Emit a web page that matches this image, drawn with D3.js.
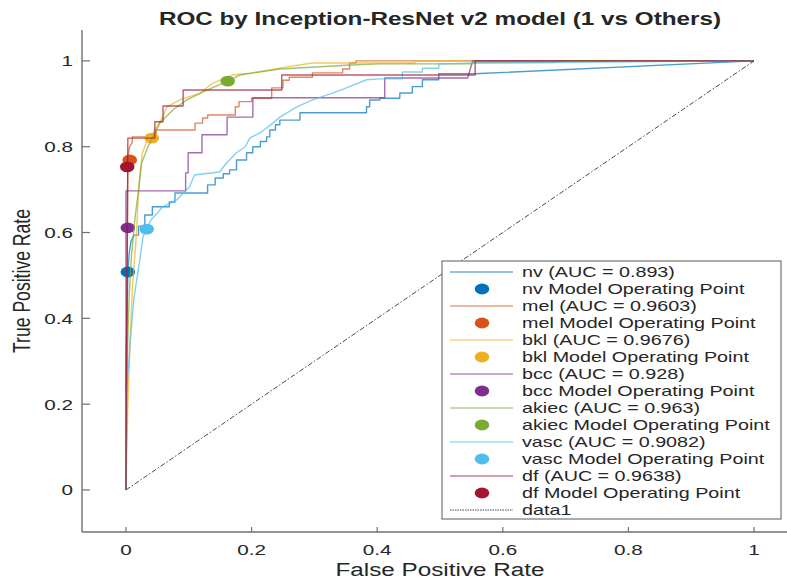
<!DOCTYPE html>
<html>
<head>
<meta charset="utf-8">
<script src="https://cdn.jsdelivr.net/npm/d3@7"></script>
<style>
  html, body { margin: 0; padding: 0; background: #fff; }
  svg { display: block; }
  text { font-family: "Liberation Sans", Arial, Helvetica, sans-serif; fill: #262626; }
</style>
</head>
<body>
<svg id="chart" width="787" height="580"></svg>
<script>
// ---------------- DATA ----------------
const classes = ["nv", "mel", "bkl", "bcc", "akiec", "vasc", "df"];
const aucValues = ["0.893", "0.9603", "0.9676", "0.928", "0.963", "0.9082", "0.9638"];
const xTicks = [0, 0.2, 0.4, 0.6, 0.8, 1];
const yTicks = [0, 0.2, 0.4, 0.6, 0.8, 1];

// ROC curve points [FPR, TPR]
const nvROC = [[0,0],[0,0.3],[0.003,0.5],[0.005,0.55],[0.008,0.58],[0.013,0.594],[0.02,0.594],[0.02,0.615],[0.03,0.615],[0.03,0.641],[0.042,0.641],[0.042,0.66],[0.069,0.66],[0.069,0.671],[0.078,0.671],[0.078,0.692],[0.13,0.692],[0.13,0.711],[0.142,0.711],[0.142,0.727],[0.155,0.727],[0.155,0.737],[0.165,0.737],[0.165,0.746],[0.176,0.746],[0.176,0.769],[0.192,0.769],[0.192,0.786],[0.202,0.786],[0.202,0.8],[0.214,0.8],[0.214,0.812],[0.224,0.812],[0.224,0.823],[0.229,0.823],[0.229,0.839],[0.238,0.839],[0.238,0.851],[0.245,0.851],[0.245,0.862],[0.277,0.862],[0.277,0.879],[0.383,0.879],[0.383,0.893],[0.388,0.893],[0.388,0.909],[0.404,0.909],[0.404,0.913],[0.436,0.913],[0.436,0.925],[0.456,0.925],[0.456,0.94],[0.472,0.94],[0.472,0.956],[0.498,0.956],[0.498,0.97],[0.556,0.97],[1,1]];
const melROC = [[0,0],[0.003,0.78],[0.006,0.8],[0.01,0.81],[0.01,0.823],[0.048,0.823],[0.048,0.839],[0.11,0.839],[0.11,0.855],[0.122,0.855],[0.122,0.867],[0.13,0.867],[0.13,0.874],[0.174,0.874],[0.174,0.893],[0.18,0.893],[0.18,0.905],[0.2,0.905],[0.2,0.913],[0.232,0.913],[0.232,0.937],[0.25,0.937],[0.25,0.955],[0.26,0.955],[0.26,0.962],[0.297,0.962],[0.297,0.972],[0.345,0.972],[0.345,0.981],[0.356,0.981],[0.356,0.995],[0.366,0.995],[0.366,1],[1,1]];
const bklROC = [[0,0],[0.003,0.2],[0.008,0.4],[0.011,0.49],[0.014,0.543],[0.017,0.606],[0.019,0.669],[0.022,0.73],[0.026,0.785],[0.033,0.812],[0.041,0.823],[0.045,0.839],[0.049,0.846],[0.059,0.87],[0.065,0.893],[0.086,0.909],[0.118,0.925],[0.138,0.948],[0.17,0.967],[0.2,0.972],[0.256,0.986],[0.297,0.995],[0.46,0.995],[0.46,1],[1,1]];
const bccROC = [[0,0],[0,0.697],[0.095,0.697],[0.095,0.739],[0.099,0.739],[0.099,0.786],[0.121,0.786],[0.121,0.828],[0.161,0.828],[0.161,0.869],[0.202,0.869],[0.202,0.914],[0.412,0.914],[0.412,0.96],[0.544,0.96],[0.552,1],[1,1]];
const akiecROC = [[0,0],[0.002,0.3],[0.005,0.45],[0.007,0.5],[0.009,0.552],[0.014,0.629],[0.02,0.699],[0.025,0.762],[0.035,0.8],[0.043,0.823],[0.054,0.855],[0.075,0.886],[0.097,0.909],[0.129,0.932],[0.162,0.953],[0.181,0.967],[0.245,0.981],[0.351,0.99],[0.404,0.993],[0.552,0.993],[0.552,0.996],[0.68,0.996],[0.7,1],[1,1]];
const vascROC = [[0,0],[0,0.21],[0.007,0.35],[0.013,0.45],[0.022,0.536],[0.027,0.59],[0.033,0.608],[0.04,0.63],[0.05,0.645],[0.058,0.66],[0.07,0.668],[0.081,0.676],[0.09,0.69],[0.101,0.706],[0.109,0.734],[0.125,0.737],[0.149,0.741],[0.16,0.762],[0.176,0.786],[0.19,0.8],[0.197,0.82],[0.213,0.832],[0.234,0.855],[0.245,0.869],[0.272,0.893],[0.297,0.909],[0.329,0.925],[0.351,0.937],[0.383,0.956],[0.404,0.958],[0.44,0.958],[0.44,0.974],[0.472,0.974],[0.472,0.983],[0.498,0.983],[0.498,0.993],[0.563,0.995],[1,1]];
const dfROC = [[0,0],[0.003,0.82],[0.046,0.82],[0.046,0.858],[0.059,0.858],[0.059,0.895],[0.091,0.895],[0.091,0.932],[0.248,0.932],[0.248,0.967],[0.556,0.967],[0.556,1],[1,1]];

// Operating points [FPR, TPR]
const nvOP = [0.003, 0.508];
const melOP = [0.006, 0.769];
const bklOP = [0.041, 0.82];
const bccOP = [0.003, 0.611];
const akiecOP = [0.162, 0.953];
const vascOP = [0.033, 0.608];
const dfOP = [0.002, 0.753];

const chanceLine = [[0,0],[1,1]];

// ---------------- STYLE ----------------
const colors = ["#0072BD", "#D95319", "#EDB120", "#7E2F8E", "#77AC30", "#4DBEEE", "#A2142F"];
const rocs = [nvROC, melROC, bklROC, bccROC, akiecROC, vascROC, dfROC];
const ops = [nvOP, melOP, bklOP, bccOP, akiecOP, vascOP, dfOP];
const SX = 1.38;       // horizontal stretch of the original picture
const axisColor = "#707070";

const svg = d3.select("#chart");
const x = d3.scaleLinear().domain([-0.07, 1.07]).range([82, 798]);
const y = d3.scaleLinear().domain([-0.098, 1.072]).range([532, 30]);

function stretchedText(g, px, py, str, size, anchor, weight) {
  return g.append("text")
    .attr("transform", `translate(${px},${py}) scale(${SX},1)`)
    .attr("text-anchor", anchor || "start")
    .style("font-size", size + "px")
    .style("font-weight", weight || "normal")
    .text(str);
}

// Axes lines
svg.append("line").attr("x1", x.range()[0]).attr("x2", 787)
  .attr("y1", y.range()[0]).attr("y2", y.range()[0])
  .attr("stroke", axisColor).attr("stroke-width", 1.4);
svg.append("line").attr("x1", x.range()[0]).attr("x2", x.range()[0])
  .attr("y1", y.range()[0]).attr("y2", y.range()[1])
  .attr("stroke", axisColor).attr("stroke-width", 1.4);

// Ticks (inside)
xTicks.forEach(t => {
  svg.append("line").attr("x1", x(t)).attr("x2", x(t))
    .attr("y1", y.range()[0]).attr("y2", y.range()[0] - 5)
    .attr("stroke", axisColor).attr("stroke-width", 1.2);
  stretchedText(svg, x(t), 555, d3.format("~g")(t), 15, "middle");
});
yTicks.forEach(t => {
  svg.append("line").attr("x1", x.range()[0]).attr("x2", x.range()[0] + 8)
    .attr("y1", y(t)).attr("y2", y(t))
    .attr("stroke", axisColor).attr("stroke-width", 1.2);
  stretchedText(svg, 73, y(t) + 5.5, d3.format("~g")(t), 15, "end");
});

// Labels & title
stretchedText(svg, 440, 576, "False Positive Rate", 17.6, "middle");
svg.append("text")
  .attr("transform", `translate(30,281) scale(${SX},1) rotate(-90)`)
  .attr("text-anchor", "middle")
  .style("font-size", "17.6px")
  .text("True Positive Rate");
stretchedText(svg, 440, 25, "ROC by Inception-ResNet v2 model (1 vs Others)", 17.6, "middle", "bold");

// Curves and operating points
const line = d3.line().x(d => x(d[0])).y(d => y(d[1]));
const plot = svg.append("g");
classes.forEach((c, i) => {
  plot.append("path").datum(rocs[i])
    .attr("d", line)
    .attr("fill", "none")
    .attr("stroke", colors[i])
    .attr("stroke-opacity", 0.7)
    .attr("stroke-width", 1.4)
    .attr("stroke-linejoin", "round");
  plot.append("ellipse")
    .attr("cx", x(ops[i][0])).attr("cy", y(ops[i][1]))
    .attr("rx", 7.3).attr("ry", 5.4)
    .attr("fill", colors[i]);
});
plot.append("path").datum(chanceLine)
  .attr("d", line)
  .attr("fill", "none")
  .attr("stroke", "#4a4a4a")
  .attr("stroke-width", 1)
  .attr("stroke-dasharray", "5,2,1.5,2");

// Legend
const legendEntries = [];
classes.forEach((c, i) => {
  legendEntries.push({ label: `${c} (AUC = ${aucValues[i]})`, type: "line", color: colors[i] });
  legendEntries.push({ label: `${c} Model Operating Point`, type: "marker", color: colors[i] });
});
legendEntries.push({ label: "data1", type: "dash", color: "#4a4a4a" });

const lg = svg.append("g");
lg.append("rect").attr("x", 442).attr("y", 261).attr("width", 339).attr("height", 258)
  .attr("fill", "#fff").attr("stroke", "#5a5a5a").attr("stroke-width", 1);
const rowY = d3.scaleLinear().domain([0, legendEntries.length - 1]).range([272, 510]);
legendEntries.forEach((e, k) => {
  const cy = rowY(k);
  if (e.type === "line") {
    lg.append("line").attr("x1", 450).attr("x2", 513).attr("y1", cy).attr("y2", cy)
      .attr("stroke", e.color).attr("stroke-opacity", 0.55).attr("stroke-width", 1.4);
  } else if (e.type === "marker") {
    lg.append("ellipse").attr("cx", 482).attr("cy", cy).attr("rx", 7.3).attr("ry", 5.4)
      .attr("fill", e.color);
  } else {
    lg.append("line").attr("x1", 450).attr("x2", 513).attr("y1", cy).attr("y2", cy)
      .attr("stroke", e.color).attr("stroke-width", 1).attr("stroke-dasharray", "1.5,1");
  }
  stretchedText(lg, 522, cy + 5, e.label, 14.3, "start");
});
</script>
</body>
</html>
